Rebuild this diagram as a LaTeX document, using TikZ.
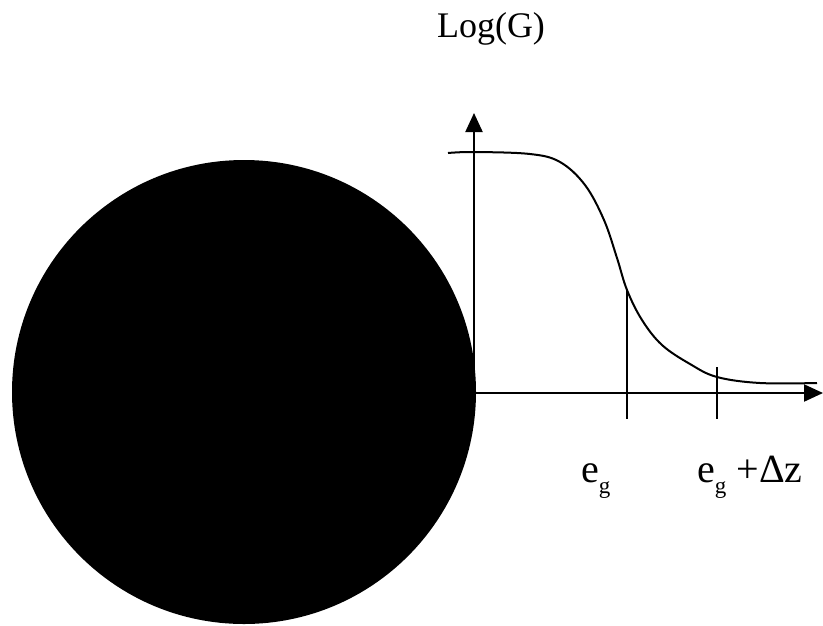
\documentclass[tikz,border=0pt]{standalone}
\usepackage{fontspec}
\setmainfont{Liberation Serif}
\usetikzlibrary{arrows.meta}
\newcommand{\subg}{\raisebox{-11pt}{\fontsize{23}{23}\selectfont g}}
\begin{document}
\begin{tikzpicture}[x=1pt,y=-1pt,
  axis/.style={line width=2.2pt,-{Triangle[length=19pt,width=17pt]}},
  curve/.style={line width=2pt},
  tick/.style={line width=1.4pt},
  lbl/.style={font=\fontsize{36}{40}\selectfont,inner sep=0pt},
  elbl/.style={font=\fontsize{40}{44}\selectfont,inner sep=0pt}]
\useasboundingbox (0,0) rectangle (823,625);
\fill[black] (244,392) circle[radius=232];
\coordinate (O) at (474,393);
\coordinate (ytip) at (474,113);
\coordinate (xtip) at (823,393);
\draw[axis] (O) -- (ytip);
\draw[axis] (O) -- (xtip);
\coordinate (c1) at (627,290);
\coordinate (c2) at (717,377);
\draw[curve] plot[smooth,tension=0.6] coordinates {(448,153) (474,152) (530,154) (560,162) (585,185) (604,220) (617,258) (627,290) (642,320) (662,345) (690,364) (717,377) (760,383) (817,383)};
\coordinate (t1) at (627,419);
\coordinate (t2) at (717,419);
\coordinate (t2top) at (717,367);
\draw[tick] (c1) -- (t1);
\draw[tick] (t2top) -- (t2);
\node[lbl,anchor=base] (logG) at (491,37) {Log(G)};
\node[elbl,anchor=base west] (eg) at (581,482) {e\subg};
\node[elbl,anchor=base west] (egdz) at (697,482) {e\subg{} +Δz};
\end{tikzpicture}
\end{document}
